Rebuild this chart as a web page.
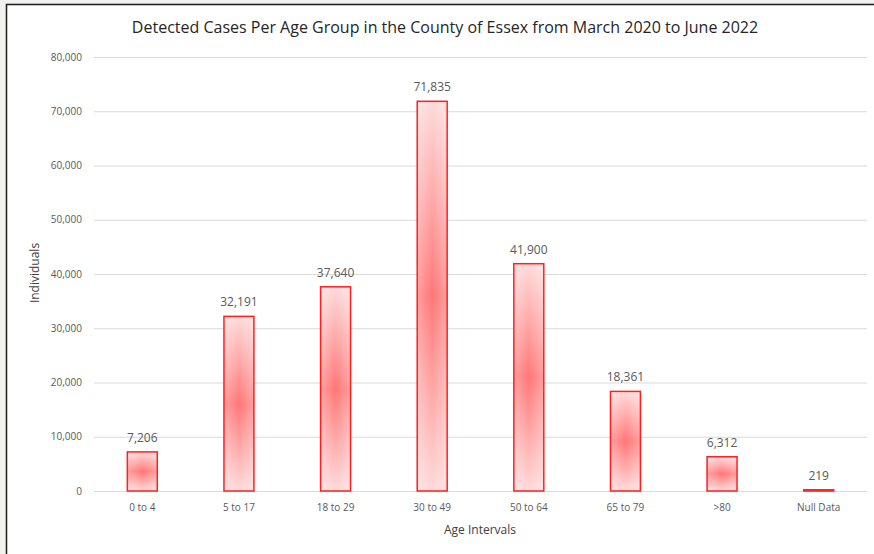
<!DOCTYPE html>
<html>
<head>
<meta charset="utf-8">
<script src="https://cdn.jsdelivr.net/npm/d3@7"></script>
<style>
  html, body { margin: 0; padding: 0; background: #f1f1ef; }
  svg { display: block; }
  text { font-family: 'Open Sans', 'Noto Sans', sans-serif; }
</style>
</head>
<body>
<div id="chart"></div>
<script>
const categories = ['0 to 4', '5 to 17', '18 to 29', '30 to 49', '50 to 64', '65 to 79', '>80', 'Null Data'];
const cases = [7206, 32191, 37640, 71835, 41900, 18361, 6312, 219];
const yTicks = [0, 10000, 20000, 30000, 40000, 50000, 60000, 70000, 80000];

const svgWidth = 874;
const svgHeight = 554;
const margin = { top: 57, left: 94, bottom: 63, right: 7 };

const svg = d3
    .select('#chart')
    .append('svg')
    .attr('width', svgWidth)
    .attr('height', svgHeight);

// chart frame
svg.append('rect')
    .attr('x', 6.5)
    .attr('y', 4.5)
    .attr('width', svgWidth)
    .attr('height', svgHeight)
    .attr('fill', '#fff')
    .attr('stroke', '#1a1a1a')
    .attr('stroke-width', 1.5);

const defs = svg.append('defs');

// vertical light-dark-light, plus a soft white fade at the sides
const vGrad = defs.append('linearGradient')
    .attr('id', 'barFill')
    .attr('x1', 0).attr('y1', 0).attr('x2', 0).attr('y2', 1);
vGrad.append('stop').attr('offset', '0%').attr('stop-color', '#ffdada');
vGrad.append('stop').attr('offset', '50%').attr('stop-color', '#ff7676');
vGrad.append('stop').attr('offset', '100%').attr('stop-color', '#ffdada');

const hGrad = defs.append('linearGradient')
    .attr('id', 'barSide')
    .attr('x1', 0).attr('y1', 0).attr('x2', 1).attr('y2', 0);
hGrad.append('stop').attr('offset', '0%').attr('stop-color', '#fff').attr('stop-opacity', 0.3);
hGrad.append('stop').attr('offset', '50%').attr('stop-color', '#fff').attr('stop-opacity', 0);
hGrad.append('stop').attr('offset', '100%').attr('stop-color', '#fff').attr('stop-opacity', 0.3);

const x = d3
    .scaleBand()
    .domain(categories)
    .range([margin.left, svgWidth - margin.right])
    .paddingInner(0.69)
    .paddingOuter(0.345);

const y = d3
    .scaleLinear()
    .domain([0, 80000])
    .range([svgHeight - margin.bottom, margin.top]);

const fmt = d3.format(',');

// gridlines + y labels
svg.append('g')
    .selectAll('line')
    .data(yTicks)
    .enter()
    .append('line')
    .attr('x1', margin.left)
    .attr('x2', svgWidth - margin.right)
    .attr('y1', d => y(d) + 0.5)
    .attr('y2', d => y(d) + 0.5)
    .attr('stroke', '#d9d9d9')
    .attr('stroke-width', 1);

svg.append('g')
    .selectAll('text')
    .data(yTicks)
    .enter()
    .append('text')
    .attr('x', 82)
    .attr('y', d => y(d))
    .attr('dy', '0.35em')
    .attr('text-anchor', 'end')
    .attr('font-size', 10)
    .attr('fill', '#595959')
    .text(d => fmt(d));

// bars
const bars = svg.append('g')
    .selectAll('g')
    .data(cases)
    .enter()
    .append('g');

bars.append('rect')
    .attr('x', (d, i) => x(categories[i]))
    .attr('y', d => y(d))
    .attr('width', x.bandwidth())
    .attr('height', d => y(0) - y(d))
    .attr('fill', 'url(#barFill)');

bars.append('rect')
    .attr('x', (d, i) => x(categories[i]))
    .attr('y', d => y(d))
    .attr('width', x.bandwidth())
    .attr('height', d => y(0) - y(d))
    .attr('fill', 'url(#barSide)')
    .attr('stroke', '#ff1f1f')
    .attr('stroke-width', 1.5);

// data labels
svg.append('g')
    .selectAll('text')
    .data(cases)
    .enter()
    .append('text')
    .attr('x', (d, i) => x(categories[i]) + x.bandwidth() / 2)
    .attr('y', d => y(d) - 10)
    .attr('text-anchor', 'middle')
    .attr('font-size', 12)
    .attr('fill', '#595959')
    .text(d => fmt(d));

// x labels
svg.append('g')
    .selectAll('text')
    .data(categories)
    .enter()
    .append('text')
    .attr('x', d => x(d) + x.bandwidth() / 2)
    .attr('y', 511)
    .attr('text-anchor', 'middle')
    .attr('font-size', 10)
    .attr('fill', '#595959')
    .text(d => d);

// titles
svg.append('text')
    .attr('x', 445)
    .attr('y', 33)
    .attr('text-anchor', 'middle')
    .attr('font-size', 16)
    .attr('fill', '#262626')
    .text('Detected Cases Per Age Group in the County of Essex from March 2020 to June 2022');

svg.append('text')
    .attr('x', 480)
    .attr('y', 534)
    .attr('text-anchor', 'middle')
    .attr('font-size', 12)
    .attr('fill', '#404040')
    .text('Age Intervals');

svg.append('text')
    .attr('transform', 'translate(39, 273) rotate(-90)')
    .attr('text-anchor', 'middle')
    .attr('font-size', 12)
    .attr('fill', '#404040')
    .text('Individuals');
</script>
</body>
</html>
